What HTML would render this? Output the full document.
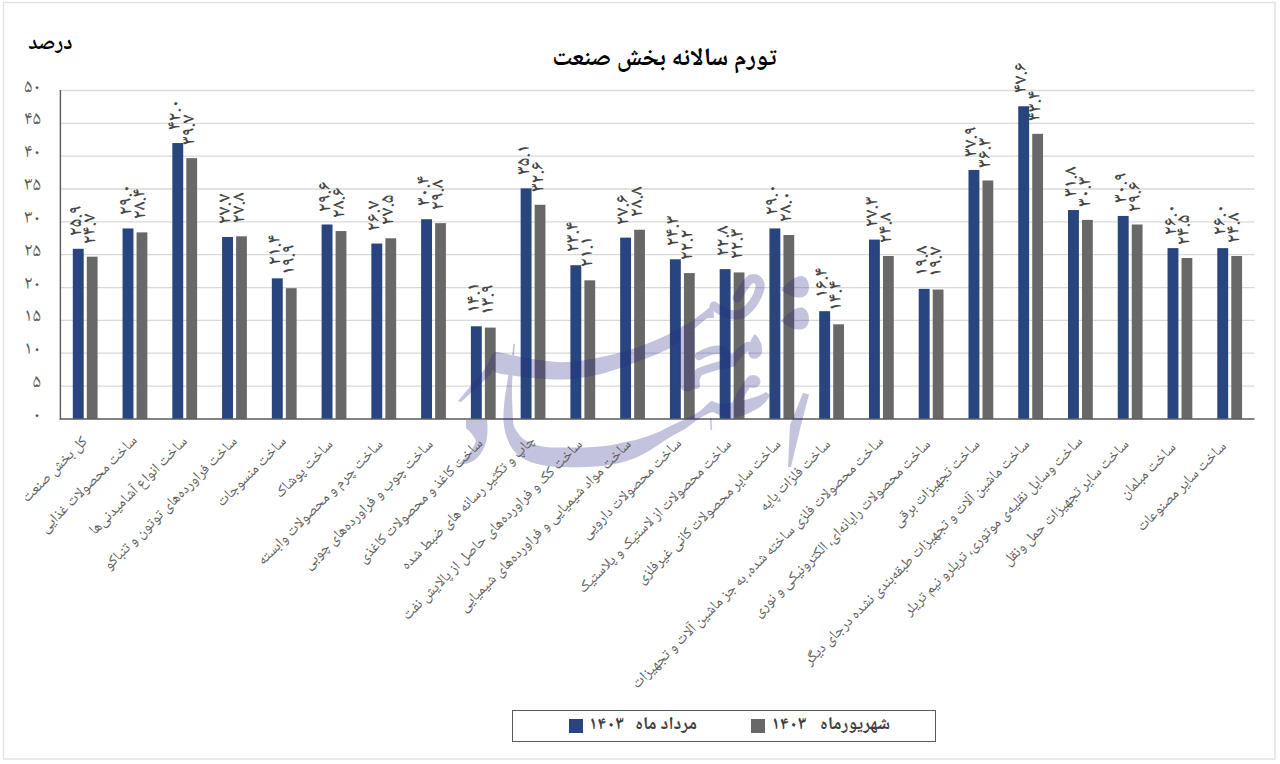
<!DOCTYPE html>
<html lang="fa"><head><meta charset="utf-8"><title>تورم سالانه بخش صنعت</title>
<style>
html,body{margin:0;padding:0;background:#fff;}
body{width:1280px;height:764px;position:relative;overflow:hidden;font-family:'Noto Naskh Arabic','DejaVu Sans',sans-serif;}
svg.chart{position:absolute;left:0;top:0;}
.title{position:absolute;left:0;width:1329px;top:40px;text-align:center;font-weight:bold;font-size:25px;color:#000;direction:rtl;line-height:40px;}
.unit{position:absolute;right:1207.5px;top:24px;font-weight:bold;font-size:21.2px;color:#000;direction:rtl;line-height:40px;}
.yl{position:absolute;left:0;width:41px;height:40px;line-height:40px;text-align:right;letter-spacing:2px;font-size:19px;color:#595959;direction:ltr;}
.dl{position:absolute;width:0;height:0;}
.dl span{position:absolute;left:0;top:0;white-space:nowrap;font-size:18.5px;line-height:20px;color:#474747;font-weight:560;direction:ltr;transform-origin:0 0;transform:rotate(-90deg) translate(0,-10px);}
.cl{position:absolute;width:0;height:0;}
.cl span{position:absolute;right:0;top:-10px;line-height:20px;white-space:nowrap;font-size:15px;color:#5e5e5e;direction:rtl;transform-origin:100% 50%;transform:rotate(-45deg);}
.legend{position:absolute;left:512px;top:709.6px;width:424px;height:32.4px;border:1px solid #595959;box-sizing:border-box;}
.sw{position:absolute;top:718.5px;width:14px;height:14px;}
.lt{position:absolute;top:710px;line-height:31px;font-size:18px;font-weight:bold;color:#404040;direction:rtl;white-space:nowrap;}
</style></head><body>
<svg class="chart" width="1280" height="764" viewBox="0 0 1280 764">
<rect x="3.5" y="2.5" width="1271.5" height="756.5" fill="none" stroke="#e2e2e2" stroke-width="1.4"/>
<line x1="60.4" y1="386.06" x2="1254.4" y2="386.06" stroke="#d9d9d9" stroke-width="1.3"/>
<line x1="60.4" y1="353.22" x2="1254.4" y2="353.22" stroke="#d9d9d9" stroke-width="1.3"/>
<line x1="60.4" y1="320.38" x2="1254.4" y2="320.38" stroke="#d9d9d9" stroke-width="1.3"/>
<line x1="60.4" y1="287.54" x2="1254.4" y2="287.54" stroke="#d9d9d9" stroke-width="1.3"/>
<line x1="60.4" y1="254.70" x2="1254.4" y2="254.70" stroke="#d9d9d9" stroke-width="1.3"/>
<line x1="60.4" y1="221.86" x2="1254.4" y2="221.86" stroke="#d9d9d9" stroke-width="1.3"/>
<line x1="60.4" y1="189.02" x2="1254.4" y2="189.02" stroke="#d9d9d9" stroke-width="1.3"/>
<line x1="60.4" y1="156.18" x2="1254.4" y2="156.18" stroke="#d9d9d9" stroke-width="1.3"/>
<line x1="60.4" y1="123.34" x2="1254.4" y2="123.34" stroke="#d9d9d9" stroke-width="1.3"/>
<line x1="60.4" y1="90.50" x2="1254.4" y2="90.50" stroke="#d9d9d9" stroke-width="1.3"/>
<rect x="72.80" y="248.79" width="10.9" height="170.11" fill="#28457f"/>
<rect x="86.80" y="256.67" width="10.8" height="162.23" fill="#686868"/>
<rect x="122.56" y="228.43" width="10.9" height="190.47" fill="#28457f"/>
<rect x="136.56" y="232.37" width="10.8" height="186.53" fill="#686868"/>
<rect x="172.32" y="143.04" width="10.9" height="275.86" fill="#28457f"/>
<rect x="186.32" y="158.15" width="10.8" height="260.75" fill="#686868"/>
<rect x="222.08" y="236.97" width="10.9" height="181.93" fill="#28457f"/>
<rect x="236.08" y="236.31" width="10.8" height="182.59" fill="#686868"/>
<rect x="271.84" y="278.34" width="10.9" height="140.56" fill="#28457f"/>
<rect x="285.84" y="288.20" width="10.8" height="130.70" fill="#686868"/>
<rect x="321.60" y="224.49" width="10.9" height="194.41" fill="#28457f"/>
<rect x="335.60" y="231.06" width="10.8" height="187.84" fill="#686868"/>
<rect x="371.36" y="243.53" width="10.9" height="175.37" fill="#28457f"/>
<rect x="385.36" y="238.28" width="10.8" height="180.62" fill="#686868"/>
<rect x="421.12" y="219.23" width="10.9" height="199.67" fill="#28457f"/>
<rect x="435.12" y="223.17" width="10.8" height="195.73" fill="#686868"/>
<rect x="470.88" y="326.29" width="10.9" height="92.61" fill="#28457f"/>
<rect x="484.88" y="327.60" width="10.8" height="91.30" fill="#686868"/>
<rect x="520.64" y="188.36" width="10.9" height="230.54" fill="#28457f"/>
<rect x="534.64" y="204.78" width="10.8" height="214.12" fill="#686868"/>
<rect x="570.40" y="265.21" width="10.9" height="153.69" fill="#28457f"/>
<rect x="584.40" y="280.32" width="10.8" height="138.58" fill="#686868"/>
<rect x="620.16" y="237.62" width="10.9" height="181.28" fill="#28457f"/>
<rect x="634.16" y="229.74" width="10.8" height="189.16" fill="#686868"/>
<rect x="669.92" y="259.30" width="10.9" height="159.60" fill="#28457f"/>
<rect x="683.92" y="273.09" width="10.8" height="145.81" fill="#686868"/>
<rect x="719.68" y="269.15" width="10.9" height="149.75" fill="#28457f"/>
<rect x="733.68" y="272.43" width="10.8" height="146.47" fill="#686868"/>
<rect x="769.44" y="228.43" width="10.9" height="190.47" fill="#28457f"/>
<rect x="783.44" y="235.00" width="10.8" height="183.90" fill="#686868"/>
<rect x="819.20" y="311.18" width="10.9" height="107.72" fill="#28457f"/>
<rect x="833.20" y="324.32" width="10.8" height="94.58" fill="#686868"/>
<rect x="868.96" y="239.59" width="10.9" height="179.31" fill="#28457f"/>
<rect x="882.96" y="256.01" width="10.8" height="162.89" fill="#686868"/>
<rect x="918.72" y="288.85" width="10.9" height="130.05" fill="#28457f"/>
<rect x="932.72" y="289.51" width="10.8" height="129.39" fill="#686868"/>
<rect x="968.48" y="169.97" width="10.9" height="248.93" fill="#28457f"/>
<rect x="982.48" y="180.48" width="10.8" height="238.42" fill="#686868"/>
<rect x="1018.24" y="106.26" width="10.9" height="312.64" fill="#28457f"/>
<rect x="1032.24" y="133.85" width="10.8" height="285.05" fill="#686868"/>
<rect x="1068.00" y="210.04" width="10.9" height="208.86" fill="#28457f"/>
<rect x="1082.00" y="219.89" width="10.8" height="199.01" fill="#686868"/>
<rect x="1117.76" y="215.95" width="10.9" height="202.95" fill="#28457f"/>
<rect x="1131.76" y="224.49" width="10.8" height="194.41" fill="#686868"/>
<rect x="1167.52" y="248.13" width="10.9" height="170.77" fill="#28457f"/>
<rect x="1181.52" y="257.98" width="10.8" height="160.92" fill="#686868"/>
<rect x="1217.28" y="248.13" width="10.9" height="170.77" fill="#28457f"/>
<rect x="1231.28" y="256.01" width="10.8" height="162.89" fill="#686868"/>
<line x1="60.4" y1="90.0" x2="60.4" y2="419.59999999999997" stroke="#595959" stroke-width="1.4"/>
<line x1="59.699999999999996" y1="418.9" x2="1254.4" y2="418.9" stroke="#595959" stroke-width="1.5"/>
<g opacity="0.27" fill="#2a2585" stroke="none">
<path d="M458,401 L484,370 L492,356 L498,359 L490,375 L461,402 Z"/>
<path d="M491,357 C492,352 496,351.5 500,352.5 C520,357 540,361 560,362.2 C580,362 600,357.5 617,353.4 C635,349 650,343 666,335.6 C680,329 695,320 713,304.5 L714,317.8 C710,318 707,318.5 706,319 C697,326 690,333 684,338 C678,343 673,346 668.5,349 C660,353 652,356 645,359 C630,364 617,370 599,374.4 C585,377.5 572,379.5 560,379.5 C545,379.5 530,377.5 517.5,376.2 C508,375 500,374 496,372.5 C492,370 490,363 491,357 Z"/>
<path d="M513.5,343.5 C512,360 508,375 506,390 C504,402 503.3,412 503.5,420 C504,432 508,446 518,455 C528,463 543,466.5 560,467 C580,467.8 600,467 615,464 C630,461 643,455 652,449 C658,445 664,441 672,436 C682,431 690,426 697,420 C703,416 708,413 713,412 C718,414 722,417 730,418 C740,418 752,412 760,407 C765,403 768,400 770,395 L766,392 C760,396 752,398 744,400 C735,402 726,404 720,404 C716,403 713,401 711,401 C706,405 702,410 697,413 C690,417 684,420 678,422.5 C670,426 664,429 660,431.6 C656,433 653,434.5 650,435.5 C640,439 632,441 625,442 C615,444.5 607,446 600,446.5 C590,447.5 580,447.5 575,447.5 C565,447.5 557,447.5 550,447.5 C542,446.5 535,445 530,443 C524,440 520,437 518,433 C514,428 513,424 513,420 C512.5,410 512,400 512,392 C512,378 513.5,360 515,344 Z"/>
<path d="M710,418 L711.5,418 L712,430 L710.5,430 Z"/>
<path d="M466,420 L487,420 C489,436 486,450 476,459 C471,463 465,465 458,464 C466,458 473,450 476,441 C473,434 469,431 466,428 Z"/>
<path d="M803,393 L809,394.5 L801,425 L791,467 L788,467 L790,425 Z"/>
<path d="M781,290 C788,282 795,276 802,276 C810,277 812,294 803,297 C795,299 788,295 781,290 Z"/>
<path d="M781,321 C788,313 795,307 802,307.5 C810,309 812,326 803,329 C795,331 788,327 781,321 Z"/>
<path d="M755,334 C760,339 763,346 762,352 C761,357 756,360 751,358 C747,355 748,348 750,343 C751,339 753,336 755,334 Z"/>
<ellipse cx="753" cy="381.5" rx="7.5" ry="6.5"/>
<g fill="none" stroke="#2a2585" stroke-linecap="round" stroke-linejoin="round">
<path d="M714,306 C723,313 733,317 742,314 C750,309 758,298 760,288 C761,281 756,277 751,279 C746,282 742,290 737,298" stroke-width="9"/>
<path d="M699,356 C707,351 716,349 721,350 C725,353 729,358 732,362 C736,356 741,350 748,346" stroke-width="8.5"/>
<path d="M732,363 C724,364 712,367 699,372 C696,376 695,381 696,385" stroke-width="8"/>
<path d="M748,383 C743,390 739,397 736,404" stroke-width="8"/>
<path d="M687,332 L687,384" stroke-width="15"/>
</g>
</g>
</svg>
<div class="title">تورم سالانه بخش صنعت</div>
<div class="unit">درصد</div>
<div class="yl" style="top:395.9px">۰</div>
<div class="yl" style="top:363.1px">۵</div>
<div class="yl" style="top:330.2px">۱۰</div>
<div class="yl" style="top:297.4px">۱۵</div>
<div class="yl" style="top:264.5px">۲۰</div>
<div class="yl" style="top:231.7px">۲۵</div>
<div class="yl" style="top:198.9px">۳۰</div>
<div class="yl" style="top:166.0px">۳۵</div>
<div class="yl" style="top:133.2px">۴۰</div>
<div class="yl" style="top:100.3px">۴۵</div>
<div class="yl" style="top:67.5px">۵۰</div>
<div class="dl" style="left:76.8px;top:235.8px"><span>۲۵.۹</span></div>
<div class="dl" style="left:90.7px;top:243.7px"><span>۲۴.۷</span></div>
<div class="dl" style="left:126.5px;top:215.4px"><span>۲۹.۰</span></div>
<div class="dl" style="left:140.5px;top:219.4px"><span>۲۸.۴</span></div>
<div class="dl" style="left:176.3px;top:130.0px"><span>۴۲.۰</span></div>
<div class="dl" style="left:190.2px;top:145.2px"><span>۳۹.۷</span></div>
<div class="dl" style="left:226.0px;top:224.0px"><span>۲۷.۷</span></div>
<div class="dl" style="left:240.0px;top:223.3px"><span>۲۷.۸</span></div>
<div class="dl" style="left:275.8px;top:265.3px"><span>۲۱.۴</span></div>
<div class="dl" style="left:289.7px;top:275.2px"><span>۱۹.۹</span></div>
<div class="dl" style="left:325.5px;top:211.5px"><span>۲۹.۶</span></div>
<div class="dl" style="left:339.5px;top:218.1px"><span>۲۸.۶</span></div>
<div class="dl" style="left:375.3px;top:230.5px"><span>۲۶.۷</span></div>
<div class="dl" style="left:389.3px;top:225.3px"><span>۲۷.۵</span></div>
<div class="dl" style="left:425.1px;top:206.2px"><span>۳۰.۴</span></div>
<div class="dl" style="left:439.0px;top:210.2px"><span>۲۹.۸</span></div>
<div class="dl" style="left:474.8px;top:313.3px"><span>۱۴.۱</span></div>
<div class="dl" style="left:488.8px;top:314.6px"><span>۱۳.۹</span></div>
<div class="dl" style="left:524.6px;top:175.4px"><span>۳۵.۱</span></div>
<div class="dl" style="left:538.5px;top:191.8px"><span>۳۲.۶</span></div>
<div class="dl" style="left:574.4px;top:252.2px"><span>۲۳.۴</span></div>
<div class="dl" style="left:588.3px;top:267.3px"><span>۲۱.۱</span></div>
<div class="dl" style="left:624.1px;top:224.6px"><span>۲۷.۶</span></div>
<div class="dl" style="left:638.1px;top:216.7px"><span>۲۸.۸</span></div>
<div class="dl" style="left:673.9px;top:246.3px"><span>۲۴.۳</span></div>
<div class="dl" style="left:687.8px;top:260.1px"><span>۲۲.۲</span></div>
<div class="dl" style="left:723.6px;top:256.1px"><span>۲۲.۸</span></div>
<div class="dl" style="left:737.6px;top:259.4px"><span>۲۲.۳</span></div>
<div class="dl" style="left:773.4px;top:215.4px"><span>۲۹.۰</span></div>
<div class="dl" style="left:787.3px;top:222.0px"><span>۲۸.۰</span></div>
<div class="dl" style="left:823.1px;top:298.2px"><span>۱۶.۴</span></div>
<div class="dl" style="left:837.1px;top:311.3px"><span>۱۴.۴</span></div>
<div class="dl" style="left:872.9px;top:226.6px"><span>۲۷.۳</span></div>
<div class="dl" style="left:886.9px;top:243.0px"><span>۲۴.۸</span></div>
<div class="dl" style="left:922.7px;top:275.9px"><span>۱۹.۸</span></div>
<div class="dl" style="left:936.6px;top:276.5px"><span>۱۹.۷</span></div>
<div class="dl" style="left:972.4px;top:157.0px"><span>۳۷.۹</span></div>
<div class="dl" style="left:986.4px;top:167.5px"><span>۳۶.۳</span></div>
<div class="dl" style="left:1022.2px;top:93.3px"><span>۴۷.۶</span></div>
<div class="dl" style="left:1036.1px;top:120.8px"><span>۴۳.۴</span></div>
<div class="dl" style="left:1072.0px;top:197.0px"><span>۳۱.۸</span></div>
<div class="dl" style="left:1085.9px;top:206.9px"><span>۳۰.۳</span></div>
<div class="dl" style="left:1121.7px;top:202.9px"><span>۳۰.۹</span></div>
<div class="dl" style="left:1135.7px;top:211.5px"><span>۲۹.۶</span></div>
<div class="dl" style="left:1171.5px;top:235.1px"><span>۲۶.۰</span></div>
<div class="dl" style="left:1185.4px;top:245.0px"><span>۲۴.۵</span></div>
<div class="dl" style="left:1221.2px;top:235.1px"><span>۲۶.۰</span></div>
<div class="dl" style="left:1235.2px;top:243.0px"><span>۲۴.۸</span></div>
<div class="cl" style="left:85.7px;top:439.9px"><span>کل بخش صنعت</span></div>
<div class="cl" style="left:136.1px;top:439.2px"><span>ساخت محصولات غذایی</span></div>
<div class="cl" style="left:185.6px;top:439.5px"><span>ساخت انواع آشامیدنی‌ها</span></div>
<div class="cl" style="left:235.2px;top:439.6px"><span>ساخت فراورده‌های توتون و تنباکو</span></div>
<div class="cl" style="left:285.1px;top:439.5px"><span>ساخت منسوجات</span></div>
<div class="cl" style="left:331.4px;top:442.9px"><span>ساخت پوشاک</span></div>
<div class="cl" style="left:381.3px;top:442.8px"><span>ساخت چرم و محصولات وابسته</span></div>
<div class="cl" style="left:431.4px;top:442.5px"><span>ساخت چوب و فراورده‌های چوبی</span></div>
<div class="cl" style="left:481.5px;top:442.1px"><span>ساخت کاغذ و محصولات کاغذی</span></div>
<div class="cl" style="left:534.1px;top:439.3px"><span>چاپ و تکثیر رسانه های ضبط شده</span></div>
<div class="cl" style="left:580.6px;top:442.6px"><span>ساخت کک و فراورده‌های حاصل از پالایش نفت</span></div>
<div class="cl" style="left:630.1px;top:442.8px"><span>ساخت مواد شیمیایی و فراورده‌های شیمیایی</span></div>
<div class="cl" style="left:680.4px;top:442.3px"><span>ساخت محصولات دارویی</span></div>
<div class="cl" style="left:729.7px;top:442.7px"><span>ساخت محصولات از لاستیک و پلاستیک</span></div>
<div class="cl" style="left:779.5px;top:442.7px"><span>ساخت سایر محصولات کانی غیرفلزی</span></div>
<div class="cl" style="left:829.2px;top:442.7px"><span>ساخت فلزات پایه</span></div>
<div class="cl" style="left:882.0px;top:439.8px"><span>ساخت محصولات فلزی ساخته شده، به جز ماشین آلات و تجهیزات</span></div>
<div class="cl" style="left:928.8px;top:442.7px"><span>ساخت محصولات رایانه‌ای، الکترونیکی و نوری</span></div>
<div class="cl" style="left:978.4px;top:442.9px"><span>ساخت تجهیزات برقی</span></div>
<div class="cl" style="left:1028.2px;top:442.8px"><span>ساخت ماشین آلات و تجهیزات طبقه‌بندی نشده درجای دیگر</span></div>
<div class="cl" style="left:1081.1px;top:439.7px"><span>ساخت وسایل نقلیه‌ی موتوری، تریلرو نیم تریلر</span></div>
<div class="cl" style="left:1127.5px;top:443.0px"><span>ساخت سایر تجهیزات حمل ونقل</span></div>
<div class="cl" style="left:1174.7px;top:445.6px"><span>ساخت مبلمان</span></div>
<div class="cl" style="left:1225.0px;top:445.1px"><span>ساخت سایر مصنوعات</span></div>
<div class="legend"></div>
<div class="sw" style="left:568.5px;background:#28457f"></div>
<div class="lt" style="right:583px">مرداد ماه</div>
<div class="lt" style="right:656px">۱۴۰۳</div>
<div class="sw" style="left:751px;background:#686868"></div>
<div class="lt" style="right:390px">شهریورماه</div>
<div class="lt" style="right:473.5px">۱۴۰۳</div>
</body></html>
